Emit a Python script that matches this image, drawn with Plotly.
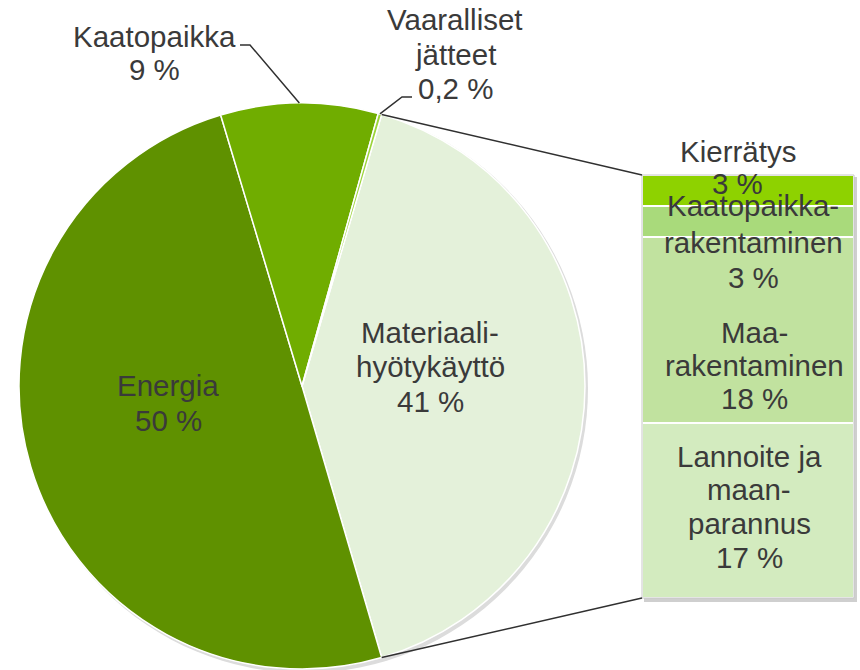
import math
import plotly.graph_objects as go

# ---------------- data ----------------
pie_names = ["Materiaali-\nhyötykäyttö", "Energia", "Kaatopaikka", "Vaaralliset\njätteet"]
pie_values = [41, 50, 9, 0.2]
pie_colors = ["#e4f1da", "#5f9100", "#70ad00", "#9bd43a"]

bar_names = ["Lannoite ja\nmaan-\nparannus", "Maa-\nrakentaminen", "Kaatopaikka-\nrakentaminen", "Kierrätys"]
bar_values = [17, 18, 3, 3]
bar_colors = ["#d3ebbf", "#c1e29f", "#a9da7b", "#8ed200"]

# ---------------- layout geometry (pixels) ----------------
W, H = 860, 670
CX, CY, R = 302, 386, 283
BX0, BX1, BY0, BY1 = 642, 854, 175, 598
FONT = "Liberation Sans, Arial, sans-serif"
TXT = "#3a3a3a"
FS = 29.5

def px(x):
    return x / W

def py(y):
    return 1 - y / H

def fmt(v):
    return f"{v:g}".replace(".", ",") + " %"

total = sum(pie_values)
other_deg = pie_values[0] / total * 360
rotation = 90 - other_deg / 2

fig = go.Figure()

fig.add_trace(go.Pie(
    labels=[n.replace("\n", " ") for n in pie_names],
    values=pie_values,
    marker=dict(colors=pie_colors, line=dict(color="white", width=1.5)),
    sort=False,
    direction="clockwise",
    rotation=rotation,
    textinfo="none",
    hoverinfo="skip",
    domain=dict(x=[px(CX - R), px(CX + R)], y=[py(CY + R), py(CY - R)]),
    showlegend=False,
))

for name, val, col in zip(bar_names, bar_values, bar_colors):
    fig.add_trace(go.Bar(
        x=[0], y=[val], width=1,
        marker=dict(color=col, line=dict(color="white", width=2)),
        xaxis="x", yaxis="y", hoverinfo="skip", showlegend=False,
        name=name.replace("\n", " "),
    ))

fig.update_layout(
    width=W, height=H,
    margin=dict(l=0, r=0, t=0, b=0),
    paper_bgcolor="white", plot_bgcolor="rgba(0,0,0,0)",
    barmode="stack", bargap=0,
    xaxis=dict(domain=[px(BX0), px(BX1)], range=[-0.5, 0.5], visible=False, fixedrange=True),
    yaxis=dict(domain=[py(BY1), py(BY0)], range=[0, sum(bar_values)], visible=False, fixedrange=True),
    font=dict(family=FONT, color=TXT, size=FS),
)

shapes = []
# subtle shadows
shapes.append(dict(type="circle", xref="paper", yref="paper", layer="below",
                   x0=px(CX - R + 2), x1=px(CX + R + 3), y0=py(CY + R + 4), y1=py(CY - R + 1),
                   fillcolor="#dcdcdc", line=dict(width=0)))
shapes.append(dict(type="rect", xref="paper", yref="paper", layer="below",
                   x0=px(BX0 + 2), x1=px(BX1 + 3), y0=py(BY1 + 4), y1=py(BY0 + 2),
                   fillcolor="#cfcfcf", line=dict(width=0)))
# bar outline
shapes.append(dict(type="rect", xref="paper", yref="paper", layer="above",
                   x0=px(BX0), x1=px(BX1), y0=py(BY1), y1=py(BY0),
                   line=dict(color="#c8c8c8", width=1)))

def pie_pt(deg):
    a = math.radians(deg)
    return CX + R * math.sin(a), CY - R * math.cos(a)

# connector lines from the "other" slice to the bar
t1 = rotation
t2 = rotation + other_deg
for deg, by in [(t1, BY0), (t2, BY1)]:
    x0, y0 = pie_pt(deg)
    shapes.append(dict(type="line", xref="paper", yref="paper",
                       x0=px(x0), y0=py(y0), x1=px(BX0), y1=py(by),
                       line=dict(color="#303030", width=1.5)))

# leader lines
cum = 0
mids = []
for v in pie_values:
    mids.append(rotation + (cum + v / 2) / total * 360)
    cum += v
kx, ky = pie_pt(mids[2])
vx, vy = pie_pt(mids[3])
def path(pts):
    return "M " + " L ".join(f"{px(a)},{py(b)}" for a, b in pts)
shapes.append(dict(type="path", xref="paper", yref="paper",
                   path=path([(kx, ky), (250, 45), (240, 45)]),
                   line=dict(color="#303030", width=1.5)))
shapes.append(dict(type="path", xref="paper", yref="paper",
                   path=path([(vx, vy), (402, 97), (412, 97)]),
                   line=dict(color="#303030", width=1.5)))
fig.update_layout(shapes=shapes)

annotations = []
def add_label(name, val, cx, y_first, spacing):
    lines = name.split("\n") + [fmt(val)]
    for i, ln in enumerate(lines):
        annotations.append(dict(
            text=ln, xref="paper", yref="paper",
            x=px(cx), y=py(y_first + i * spacing),
            xanchor="center", yanchor="middle", showarrow=False,
            font=dict(family=FONT, size=FS, color=TXT),
        ))

pie_pos = [(430, 332, 34.5), (168, 385, 35), (154, 36, 33), (455, 20, 34)]
for name, val, (cx, yf, sp) in zip(pie_names, pie_values, pie_pos):
    add_label(name, val, cx, yf, sp)

bar_pos = [(749, 456, 33.7), (754, 332, 33), (753, 206, 36), (737.5, 151, 32.5)]
for name, val, (cx, yf, sp) in zip(bar_names, bar_values, bar_pos):
    add_label(name, val, cx, yf, sp)

fig.update_layout(annotations=annotations)

fig.write_html("out.html")
